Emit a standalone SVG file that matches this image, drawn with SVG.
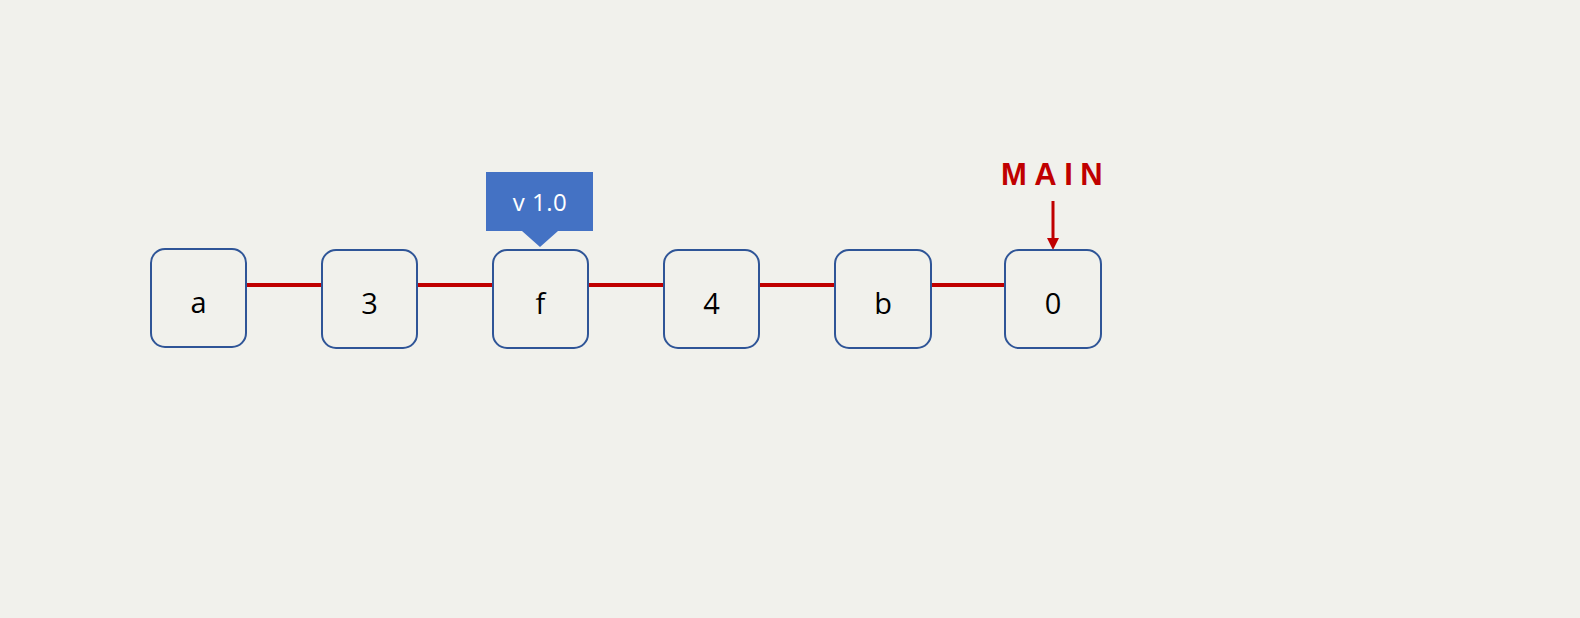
<svg xmlns="http://www.w3.org/2000/svg" width="1580" height="618" viewBox="0 0 1580 618">
<style>
.node rect{fill:#F1F1EC;stroke:#2F5597;stroke-width:2}
.node text{font-family:"Open Sans","Liberation Sans",sans-serif;font-size:29px;fill:#000;text-anchor:middle}
.conn line{stroke:#C00000;stroke-width:4}
</style>
<rect width="1580" height="618" fill="#F1F1EC"/>
<g id="connectors" class="conn">
<line x1="246" y1="285" x2="322" y2="285"/>
<line x1="417" y1="285" x2="493" y2="285"/>
<line x1="588" y1="285" x2="664" y2="285"/>
<line x1="759" y1="285" x2="835" y2="285"/>
<line x1="931" y1="285" x2="1005" y2="285"/>
<line x1="1053" y1="201" x2="1053" y2="240" style="stroke-width:3"/>
<polygon points="1047,238 1059,238 1053,250" fill="#C00000"/>
</g>
<g id="node-a" class="node"><rect x="151" y="249" width="95" height="98" rx="14"/><text x="198.5" y="313">a</text></g>
<g id="node-3" class="node"><rect x="322" y="250" width="95" height="98" rx="14"/><text x="369.5" y="314">3</text></g>
<g id="node-f" class="node"><rect x="493" y="250" width="95" height="98" rx="14"/><text x="540.5" y="314">f</text></g>
<g id="node-4" class="node"><rect x="664" y="250" width="95" height="98" rx="14"/><text x="711.5" y="314">4</text></g>
<g id="node-b" class="node"><rect x="835" y="250" width="96" height="98" rx="14"/><text x="883" y="314">b</text></g>
<g id="node-0" class="node"><rect x="1005" y="250" width="96" height="98" rx="14"/><text x="1053" y="314">0</text></g>
<g id="tag-v1">
<path d="M486,172 H593 V231 H558 L540,247 L522,231 H486 Z" fill="#4472C4"/>
<text x="540" y="211" font-family="Open Sans, Liberation Sans, sans-serif" font-size="24" fill="#FFFFFF" text-anchor="middle" letter-spacing="0.5">v 1.0</text>
</g>
<g id="main-label">
<text x="1001" y="185" font-family="Liberation Sans, Arial, sans-serif" font-size="31" font-weight="bold" letter-spacing="7.5" fill="#C00000">MAIN</text>
</g>
</svg>
